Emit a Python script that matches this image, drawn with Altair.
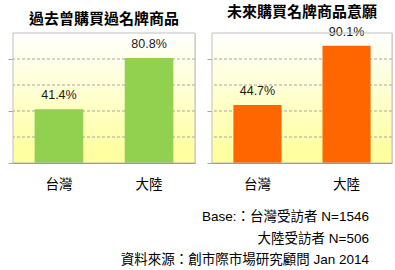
import altair as alt
import pandas as pd

regions = ["台灣", "大陸"]
past_values = [41.4, 80.8]
future_values = [44.7, 90.1]
past_title = "過去曾購買過名牌商品"
future_title = "未來購買名牌商品意願"
footnote_lines = [
    "Base:：台灣受訪者 N=1546",
    "大陸受訪者 N=506",
    "資料來源：創市際市場研究顧問 Jan 2014",
]
grid_values = [20, 40, 60, 80]
tick_values = [0, 20, 40, 60, 80, 100]

FONT = "Liberation Sans, Noto Sans CJK TC, sans-serif"
TITLE_FONT = "Noto Sans CJK TC, sans-serif"


def panel(values, title, color, width):
    df = pd.DataFrame({
        "region": regions,
        "value": values,
        "label": [f"{v:.1f}%" for v in values],
    })
    yscale = alt.Scale(domain=[0, 100])
    bg = alt.Chart(pd.DataFrame({"k": [0]})).mark_rect(
        color=alt.Gradient(
            gradient="linear",
            stops=[alt.GradientStop(color="#FFFFFF", offset=0),
                   alt.GradientStop(color="#FFFF99", offset=1)],
            x1=0, x2=0, y1=0, y2=1,
        )
    ).encode(x=alt.value(0), x2=alt.value("width"), y=alt.value(0), y2=alt.value("height"))
    grid = alt.Chart(pd.DataFrame({"t": grid_values})).mark_rule(
        strokeDash=[3, 2], color="#A6A6A6", strokeWidth=1
    ).encode(y=alt.Y("t:Q", scale=yscale, title=None))
    x = alt.X(
        "region:N", sort=regions, title=None,
        scale=alt.Scale(paddingInner=0.46, paddingOuter=0.24),
        axis=alt.Axis(labelAngle=0, ticks=False, labelFontSize=13.5, labelPadding=14,
                      labelColor="#000", domainColor="#999999", zindex=1, labelFont=FONT),
    )
    y = alt.Y(
        "value:Q", scale=yscale, title=None,
        axis=alt.Axis(values=tick_values, labels=False, domain=False, grid=False,
                      tickSize=5, tickColor="#A6A6A6"),
    )
    bars = alt.Chart(df).mark_bar(color=color).encode(x=x, y=y)
    text = alt.Chart(df).mark_text(
        baseline="bottom", dy=-7, fontSize=12.5, color="#1A1A1A", font=FONT
    ).encode(x=alt.X("region:N", sort=regions), y=alt.Y("value:Q", scale=yscale), text="label:N")
    border = alt.Chart(pd.DataFrame({"k": [0]})).mark_rect(
        fillOpacity=0, stroke="#BFBFBF", strokeWidth=1
    ).encode(x=alt.value(0), x2=alt.value("width"), y=alt.value(0), y2=alt.value("height"))
    return alt.layer(bg, grid, bars, text, border).properties(
        width=width, height=130,
        title=alt.TitleParams(title, fontSize=15, fontWeight="bold", font=TITLE_FONT,
                              offset=6, anchor="middle", color="#000"),
    )


left = panel(past_values, past_title, "#92D050", 182)
right = panel(future_values, future_title, "#FF6600", 180)

chart = alt.hconcat(left, right, spacing=10).properties(
    padding={"left": 7, "top": 4, "right": 0, "bottom": 0},
    title=alt.TitleParams(
        footnote_lines, orient="bottom", anchor="end", align="right",
        fontSize=13.5, fontWeight="normal", lineHeight=21.5, dx=-24, offset=19,
        font=FONT, color="#000",
    ),
).configure_view(stroke=None).configure(font=FONT)

chart.save("out.html", embed_options={"renderer": "svg", "actions": False})
